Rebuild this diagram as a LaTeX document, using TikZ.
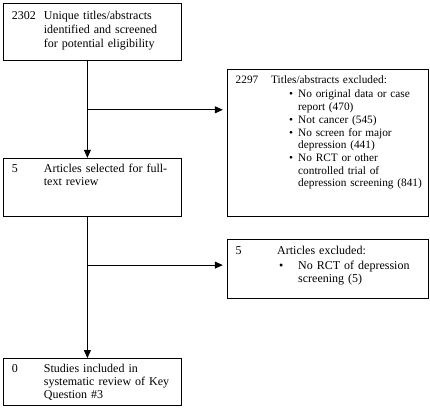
\documentclass[tikz,border=0pt]{standalone}
\usepackage{fontspec}
\setmainfont{Liberation Serif}
\usetikzlibrary{positioning,arrows.meta}

\begin{document}
\begin{tikzpicture}[
  box/.style={rectangle, draw, thick, inner xsep=8.5pt, inner ysep=0pt, align=left, font=\fontsize{12}{14}\selectfont},
  flow/.style={box, text width=161pt},
  excl/.style={box, text width=184pt},
  >={Triangle[length=8pt,width=7pt]},
  node distance=97pt
]
\useasboundingbox (0,0) rectangle (430pt,-417pt);

\node[flow, anchor=north west, text height=16pt, text depth=41pt, font=\fontsize{12}{14.2}\selectfont] (titles) at (3pt,-3pt)
  {\makebox[32pt][l]{2302}Unique titles/abstracts\\
   \hspace*{32pt}identified and screened\\
   \hspace*{32pt}for potential eligibility};
\node[flow, below=of titles, text height=14pt, text depth=44.5pt, font=\fontsize{12}{13.3}\selectfont] (fulltext)
  {\makebox[32pt][l]{5}Articles selected for full-\\
   \hspace*{32pt}text review};
\node[flow, below=141pt of fulltext, text height=13.5pt, text depth=33.5pt, font=\fontsize{12}{13}\selectfont] (included)
  {\makebox[32pt][l]{0}Studies included in\\
   \hspace*{32pt}systematic review of Key\\
   \hspace*{32pt}Question \#3};

\node[excl, below right=8pt and 45pt of titles, text height=14pt, text depth=133pt, font=\fontsize{11.3}{12.7}\selectfont] (screenexcl)
  {\makebox[35.5pt][l]{2297}Titles/abstracts excluded:\\[2pt]
   \hspace*{53.5pt}\makebox[9pt][l]{\textbullet}No original data or case\\
   \hspace*{62.5pt}report (470)\\
   \hspace*{53.5pt}\makebox[9pt][l]{\textbullet}Not cancer (545)\\
   \hspace*{53.5pt}\makebox[9pt][l]{\textbullet}No screen for major\\
   \hspace*{62.5pt}depression (441)\\
   \hspace*{53.5pt}\makebox[9pt][l]{\textbullet}No RCT or other\\
   \hspace*{62.5pt}controlled trial of\\
   \hspace*{62.5pt}\mbox{depression screening (841)}};
\node[excl, below right=22pt and 45pt of fulltext, text height=15pt, text depth=44pt, font=\fontsize{12}{13.5}\selectfont] (fullexcl)
  {\makebox[41.5pt][l]{5}Articles excluded:\\[1pt]
   \hspace*{43.5pt}\makebox[19pt][l]{\textbullet}No RCT of depression\\
   \hspace*{62.5pt}screening (5)};

% branch points on the main line
\coordinate (split1) at ([shift={(-5pt,-49pt)}]titles.south);
\coordinate (split2) at ([shift={(-5pt,-48pt)}]fulltext.south);

\draw[->,thick] ([xshift=-5pt]titles.south) -- ([xshift=-5pt]fulltext.north);
\draw[->,thick] ([xshift=-5pt]fulltext.south) -- ([xshift=-5pt]included.north);
\draw[->,thick,shorten >=4pt] (split1) -- (split1 -| screenexcl.west);
\draw[->,thick,shorten >=4pt] (split2) -- (split2 -| fullexcl.west);
\end{tikzpicture}
\end{document}
